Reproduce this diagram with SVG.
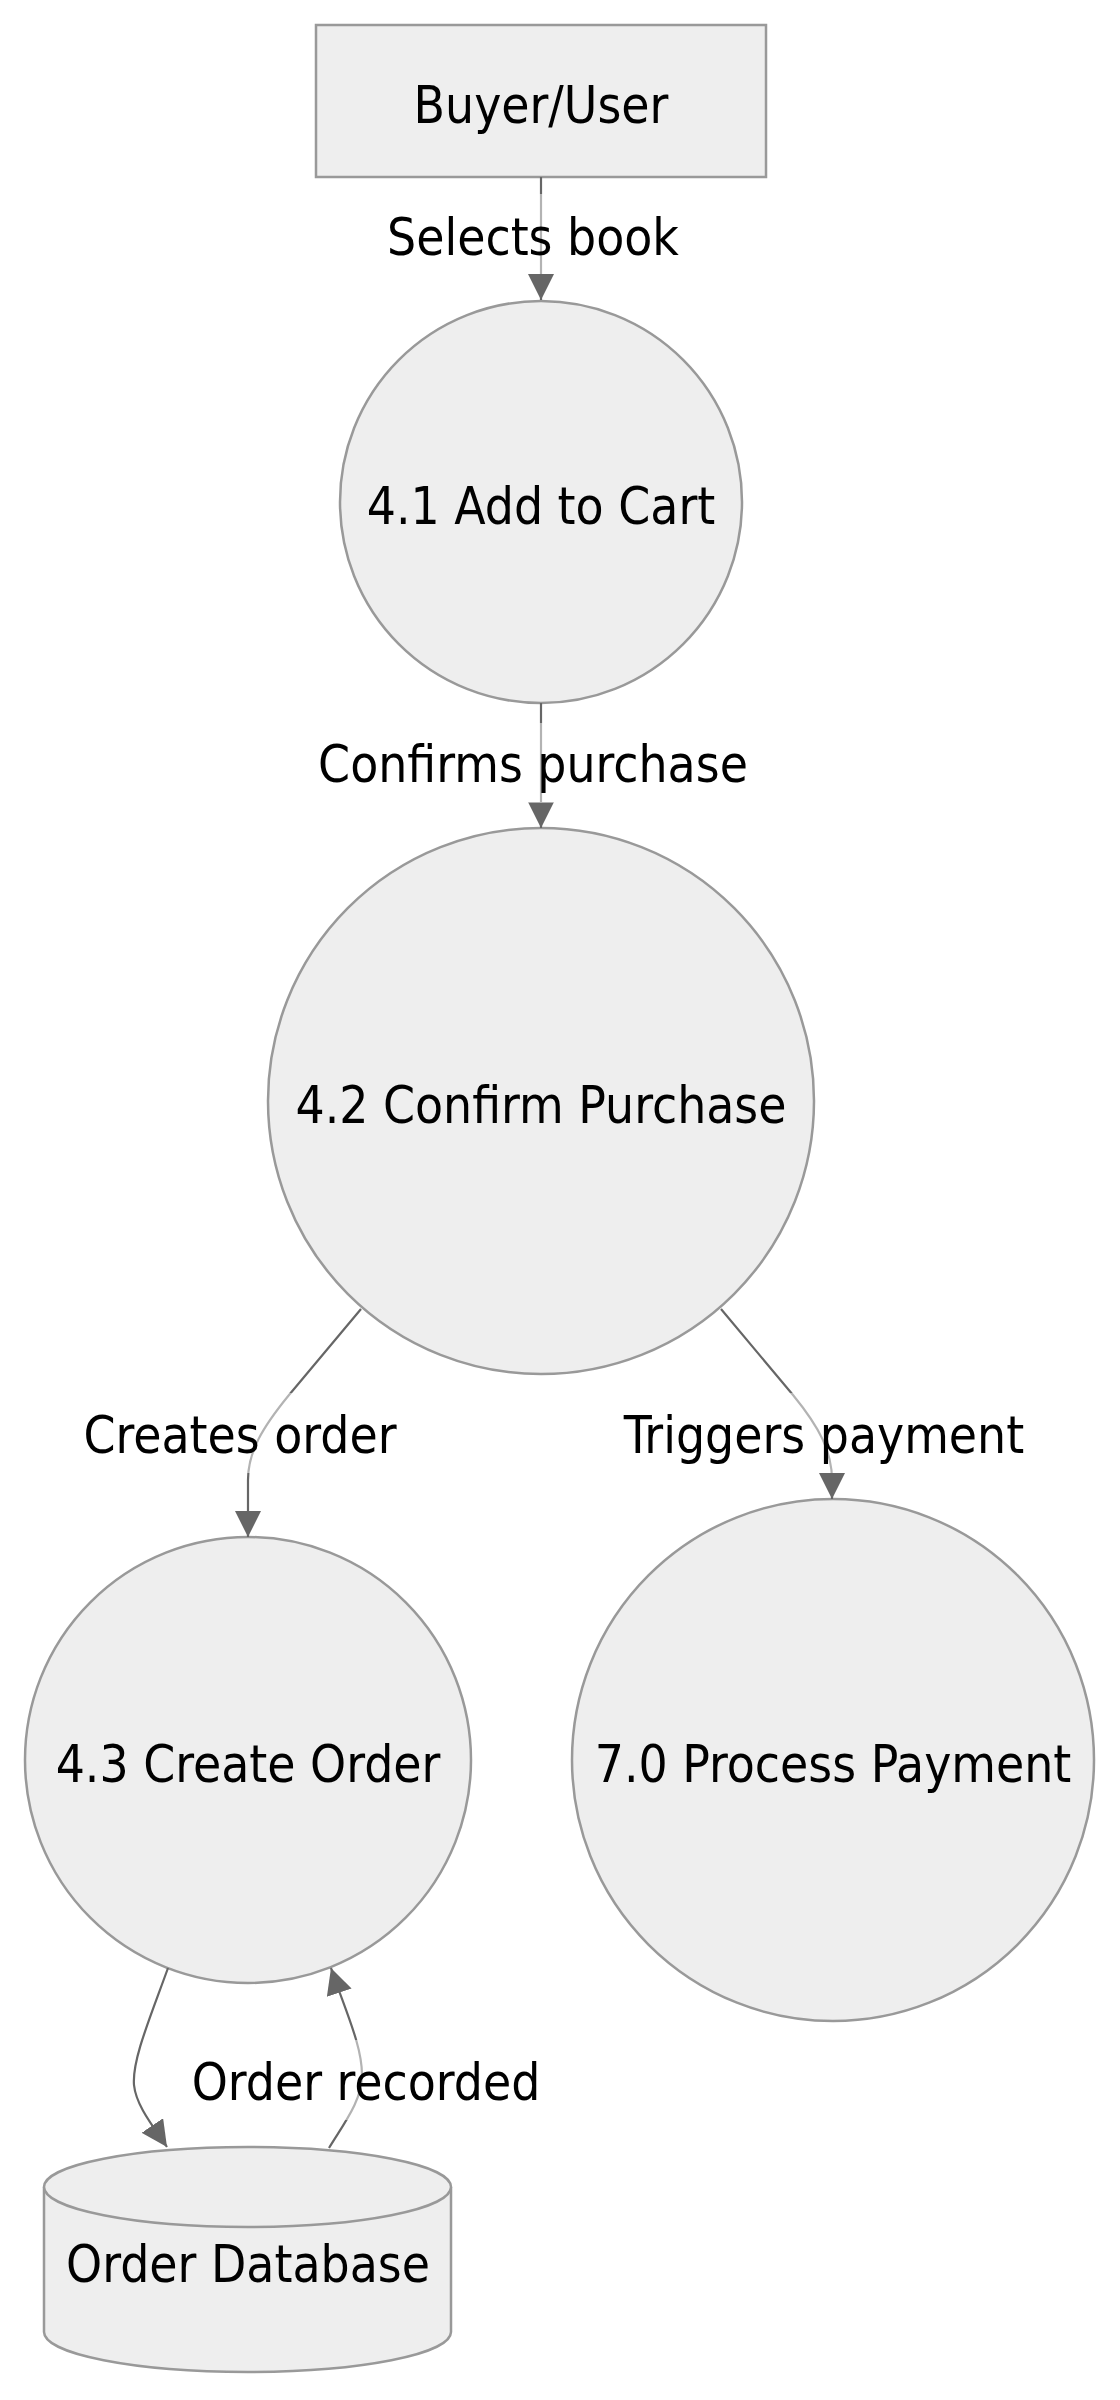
<svg xmlns="http://www.w3.org/2000/svg" width="1120" height="2400" viewBox="0 0 1120 2400">
<style>
.node{fill:#eeeeee;stroke:#999999;stroke-width:2.5}
.edge{fill:none;stroke:#666666;stroke-width:2.2}
.txt{font-family:"DejaVu Sans Condensed","DejaVu Sans","Liberation Sans",sans-serif;font-stretch:condensed;font-size:51px;fill:#000000;text-anchor:middle}
.lbg{fill:#ffffff;opacity:0.5}
</style>
<defs>
<marker id="arrow" viewBox="0 0 10 10" refX="10" refY="5" markerUnits="userSpaceOnUse" markerWidth="26" markerHeight="26" orient="auto">
<path d="M0,0 L10,5 L0,10 z" fill="#666666"/>
</marker>
</defs>
<rect width="1120" height="2400" fill="#ffffff"/>
<g id="nodes">
<g id="buyer">
<rect class="node" x="316" y="25" width="450" height="152"/>
<text class="txt" x="541" y="123">Buyer/User</text>
</g>
<g id="p41">
<circle class="node" cx="541" cy="502" r="201"/>
<text class="txt" x="541" y="524">4.1 Add to Cart</text>
</g>
<g id="p42">
<circle class="node" cx="541" cy="1101" r="273"/>
<text class="txt" x="541" y="1123">4.2 Confirm Purchase</text>
</g>
<g id="p43">
<circle class="node" cx="248" cy="1760" r="223"/>
<text class="txt" x="248" y="1782">4.3 Create Order</text>
</g>
<g id="p70">
<circle class="node" cx="833" cy="1760" r="261"/>
<text class="txt" x="833" y="1782">7.0 Process Payment</text>
</g>
<g id="orderdb">
<path class="node" d="M44,2187 A203.5,40 0 0 1 451,2187 L451,2332 A203.5,40 0 0 1 44,2332 Z"/>
<path class="node" fill="none" d="M44,2187 A203.5,40 0 0 0 451,2187"/>
<text class="txt" x="248" y="2282">Order Database</text>
</g>
</g>
<g id="connectors">
<path class="edge" marker-end="url(#arrow)" d="M541,177 L541,300"/>
<path class="edge" marker-end="url(#arrow)" d="M541,703 L541,828"/>
<path class="edge" marker-end="url(#arrow)" d="M361,1309 L289,1395 C262,1428 248,1452 248,1480 L248,1537"/>
<path class="edge" marker-end="url(#arrow)" d="M721,1309 L793,1395 C820,1428 832,1452 832,1480 L832,1499"/>
<path class="edge" marker-end="url(#arrow)" d="M168,1968 C150,2018 132,2060 134,2085 C136,2105 152,2125 167,2147"/>
<path class="edge" marker-end="url(#arrow)" d="M329,2148 C345,2122 362,2100 362,2075 C362,2045 345,2010 331,1968"/>
<g id="edge-labels">
<rect class="lbg" x="385" y="194" width="296" height="80"/>
<text class="txt" x="533" y="255">Selects book</text>
<rect class="lbg" x="317" y="723" width="432" height="80"/>
<text class="txt" x="533" y="782">Confirms purchase</text>
<rect class="lbg" x="82" y="1393" width="316" height="80"/>
<text class="txt" x="240" y="1453">Creates order</text>
<rect class="lbg" x="624" y="1393" width="400" height="80"/>
<text class="txt" x="824" y="1453">Triggers payment</text>
<rect class="lbg" x="190" y="2040" width="352" height="80"/>
<text class="txt" x="366" y="2100">Order recorded</text>
</g>
</g>
</svg>
